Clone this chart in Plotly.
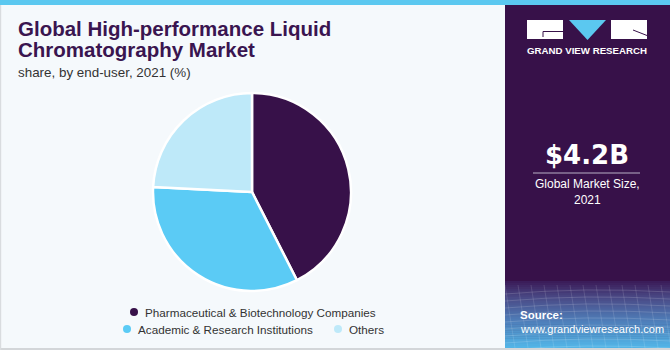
import plotly.graph_objects as go

# ---- data ----
labels = ["Pharmaceutical & Biotechnology Companies",
          "Academic & Research Institutions",
          "Others"]
shares = [42.5, 33.3, 24.2]
colors = ["#371149", "#5BCBF5", "#BEE9F9"]

title_lines = ["Global High-performance Liquid", "Chromatography Market"]
subtitle = "share, by end-user, 2021 (%)"
market_value = "$4.2B"
market_caption = ["Global Market Size,", "2021"]

W, H = 670, 350
BG = "#F5F9FC"
PURPLE = "#371149"


def px(x):
    return x / W


def py(y):
    return 1 - y / H


fig = go.Figure()

fig.add_trace(go.Pie(
    labels=labels, values=shares, sort=False, direction="clockwise",
    rotation=0, textinfo="none", hoverinfo="label+percent",
    marker=dict(colors=colors, line=dict(color="white", width=2.5)),
    domain=dict(x=[px(153), px(351)], y=[py(291), py(93)]),
    showlegend=False,
))

shapes = []
annotations = []

# right panel
shapes.append(dict(type="rect", xref="paper", yref="paper", x0=px(505), x1=px(670),
                   y0=py(348), y1=py(0), fillcolor=PURPLE, line=dict(width=0), layer="below"))


def lerp(c1, c2, t):
    a = [int(c1[i:i + 2], 16) for i in (1, 3, 5)]
    b = [int(c2[i:i + 2], 16) for i in (1, 3, 5)]
    return "#%02x%02x%02x" % tuple(round(a[k] + (b[k] - a[k]) * t) for k in range(3))


# gradient at bottom of right panel
g_top, g_bot = 281, 348
n = 34
stops = [(0.0, "#3A1A57"), (0.25, "#4A4A86"), (0.6, "#4F7FBA"), (1.0, "#52B6E8")]
for i in range(n):
    t = (i + 0.5) / n
    for j in range(len(stops) - 1):
        if stops[j][0] <= t <= stops[j + 1][0]:
            tt = (t - stops[j][0]) / (stops[j + 1][0] - stops[j][0])
            c = lerp(stops[j][1], stops[j + 1][1], tt)
            break
    y0 = g_top + (g_bot - g_top) * i / n
    y1 = g_top + (g_bot - g_top) * (i + 1) / n + 0.5
    shapes.append(dict(type="rect", xref="paper", yref="paper", x0=px(505), x1=px(670),
                       y0=py(y1), y1=py(y0), fillcolor=c, line=dict(width=0), layer="below"))

# faint grid texture
for k in range(9):
    yy = 290 + k * 7
    shapes.append(dict(type="path", xref="paper", yref="paper",
                       path=f"M {px(505)},{py(yy + 4)} Q {px(585)},{py(yy - 3)} {px(670)},{py(yy + 2)}",
                       line=dict(color="rgba(255,255,255,0.15)", width=1), layer="below"))
for k in range(14):
    xx = 505 + k * 13
    shapes.append(dict(type="line", xref="paper", yref="paper",
                       x0=px(xx), x1=px(xx + 10), y0=py(285), y1=py(348),
                       line=dict(color="rgba(255,255,255,0.12)", width=1), layer="below"))

# top stripe
shapes.append(dict(type="rect", xref="paper", yref="paper", x0=0, x1=1,
                   y0=py(5), y1=1, fillcolor="#5BC8F0", line=dict(width=0)))
# borders
shapes.append(dict(type="rect", xref="paper", yref="paper", x0=0, x1=1,
                   y0=0, y1=py(348), fillcolor="#D3D6D9", line=dict(width=0)))
shapes.append(dict(type="rect", xref="paper", yref="paper", x0=0, x1=px(1.2),
                   y0=0, y1=py(5), fillcolor="#D9DCDF", line=dict(width=0)))

# logo
shapes.append(dict(type="rect", xref="paper", yref="paper", x0=px(527), x1=px(563),
                   y0=py(39), y1=py(20), fillcolor="white", line=dict(width=0)))
shapes.append(dict(type="path", xref="paper", yref="paper",
                   path=f"M {px(543)},{py(37)} L {px(543)},{py(31.5)} L {px(563)},{py(31.5)}",
                   line=dict(color=PURPLE, width=1)))
shapes.append(dict(type="path", xref="paper", yref="paper",
                   path=f"M {px(569)},{py(20)} L {px(606)},{py(20)} L {px(587.5)},{py(40)} Z",
                   fillcolor="#5BC8F0", line=dict(width=0)))
shapes.append(dict(type="rect", xref="paper", yref="paper", x0=px(611), x1=px(647),
                   y0=py(39), y1=py(20), fillcolor="white", line=dict(width=0)))
shapes.append(dict(type="line", xref="paper", yref="paper", x0=px(633), y0=py(30),
                   x1=px(647), y1=py(35.5), line=dict(color=PURPLE, width=1)))
annotations.append(dict(text="<b>GRAND VIEW RESEARCH</b>", x=px(587), y=py(51),
                        xref="paper", yref="paper", showarrow=False, xanchor="center", yanchor="middle",
                        font=dict(family="Liberation Sans", size=9.7, color="white")))

# market size
annotations.append(dict(text=f"<b>{market_value}</b>", x=px(587), y=py(155),
                        xref="paper", yref="paper", showarrow=False, xanchor="center", yanchor="middle",
                        font=dict(family="DejaVu Sans", size=26, color="white")))
shapes.append(dict(type="line", xref="paper", yref="paper", x0=px(533), x1=px(640),
                   y0=py(173), y1=py(173), line=dict(color="#B9B0C6", width=1)))
annotations.append(dict(text="<br>".join(market_caption), x=px(587), y=py(192),
                        xref="paper", yref="paper", showarrow=False, xanchor="center", yanchor="middle",
                        font=dict(family="Liberation Sans", size=12, color="white")))

# source
annotations.append(dict(text="<b>Source:</b>", x=px(518), y=py(315),
                        xref="paper", yref="paper", showarrow=False, xanchor="left", yanchor="middle",
                        font=dict(family="Liberation Sans", size=11.5, color="white")))
annotations.append(dict(text="www.grandviewresearch.com", x=px(518), y=py(329),
                        xref="paper", yref="paper", showarrow=False, xanchor="left", yanchor="middle",
                        font=dict(family="Liberation Sans", size=11, color="white")))

# titles
annotations.append(dict(text="<b>" + title_lines[0] + "</b>", x=px(16), y=py(29),
                        xref="paper", yref="paper", showarrow=False, xanchor="left", yanchor="middle",
                        font=dict(family="Liberation Sans", size=20.5, color="#3A1550")))
annotations.append(dict(text="<b>" + title_lines[1] + "</b>", x=px(16), y=py(50),
                        xref="paper", yref="paper", showarrow=False, xanchor="left", yanchor="middle",
                        font=dict(family="Liberation Sans", size=20.5, color="#3A1550")))
annotations.append(dict(text=subtitle, x=px(16), y=py(72),
                        xref="paper", yref="paper", showarrow=False, xanchor="left", yanchor="middle",
                        font=dict(family="Liberation Sans", size=13.4, color="#333333")))

# legend (manual)
legend_pos = [(134, 312), (127, 329), (338, 329)]
for lab, col, (lx, ly) in zip(labels, colors, legend_pos):
    r = 4
    shapes.append(dict(type="circle", xref="paper", yref="paper",
                       x0=px(lx - r), x1=px(lx + r), y0=py(ly + r), y1=py(ly - r),
                       fillcolor=col, line=dict(width=0)))
    annotations.append(dict(text=lab, x=px(lx + 9), y=py(ly), xref="paper", yref="paper",
                            showarrow=False, xanchor="left", yanchor="middle",
                            font=dict(family="Liberation Sans", size=11.7, color="#333333")))

fig.update_layout(
    width=W, height=H, margin=dict(l=0, r=0, t=0, b=0),
    paper_bgcolor=BG, plot_bgcolor=BG,
    shapes=shapes, annotations=annotations, showlegend=False,
)

fig.write_html("out.html", config={"displayModeBar": False})
